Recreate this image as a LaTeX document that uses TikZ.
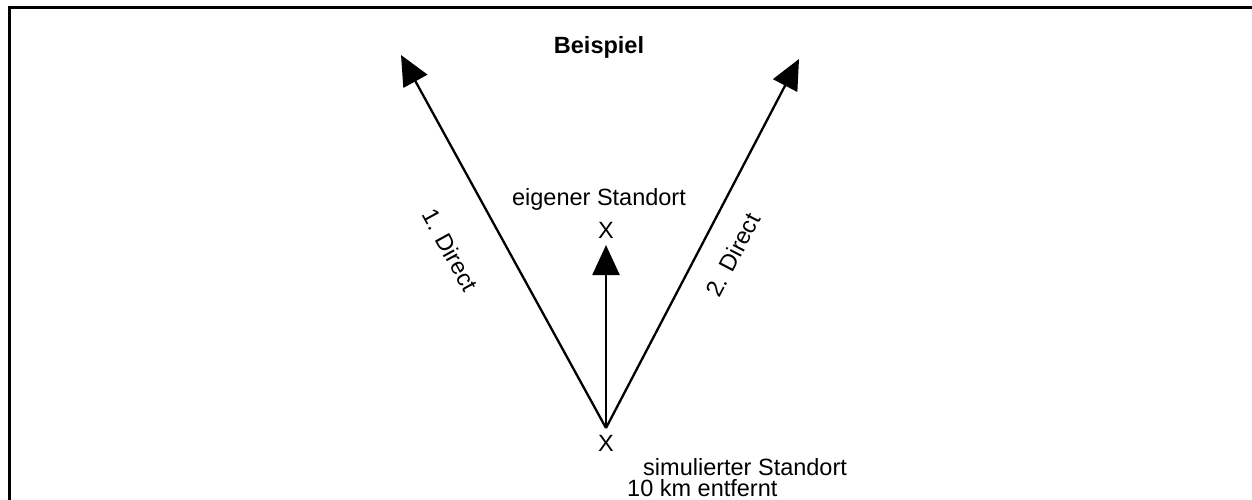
\documentclass[tikz,border=0pt]{standalone}
\usepackage{fontspec}
\setmainfont{Liberation Sans}
\usetikzlibrary{arrows.meta}
\begin{document}
\begin{tikzpicture}[x=1pt,y=-1pt,
  lbl/.style={font=\fontsize{23.5}{27}\selectfont, inner sep=0pt},
  arr/.style={line width=2.3pt, -{Triangle[length=30pt,width=27pt]}}]
\useasboundingbox (0,0) rectangle (1252,500);
\draw[line width=3pt] (9,502) -- (9,7.5) -- (1254,7.5);
\node[lbl, font=\fontsize{23.5}{27}\selectfont\bfseries] (title) at (599,47) {Beispiel};
\coordinate (o) at (606,428);
\coordinate (lt) at (401,55);
\coordinate (rt) at (799,59);
\coordinate (mt) at (606,245);
\draw[arr] (o) -- (lt);
\draw[arr] (o) -- (rt);
\draw[arr] (o) -- (mt);
\node[lbl] (x1) at (606,230) {X};
\node[lbl] (own) at (599,199) {eigener Standort};
\node[lbl] (x2) at (606,443) {X};
\node[lbl, anchor=west] (sim) at (643,467) {simulierter Standort};
\node[lbl, anchor=west] (km) at (627,488) {10 km entfernt};
\node[lbl, rotate=-61.2] (d1) at (450,250) {1. Direct};
\node[lbl, rotate=62.4] (d2) at (733,255) {2. Direct};
\end{tikzpicture}
\end{document}
